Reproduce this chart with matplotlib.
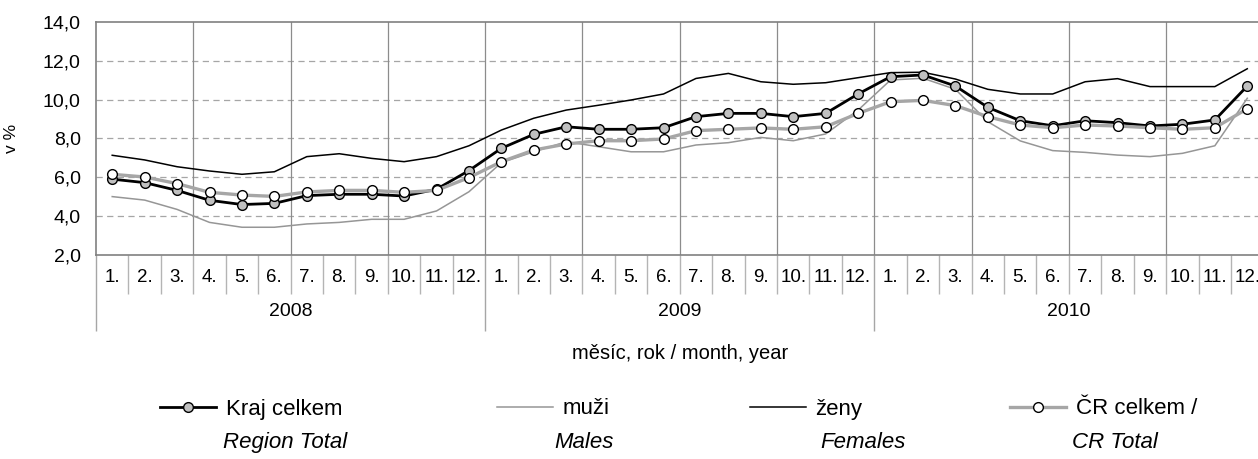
import numpy as np
import matplotlib.pyplot as plt
from matplotlib.lines import Line2D

plt.rcParams['font.family'] = ['Liberation Sans', 'DejaVu Sans']

months = [f'{m}.' for m in range(1, 13)] * 3
years = ['2008', '2009', '2010']

# nezaměstnanost v %
kraj = [5.90, 5.72, 5.32, 4.81, 4.59, 4.65, 5.05, 5.12, 5.12, 5.03, 5.38, 6.34,
        7.49, 8.21, 8.60, 8.47, 8.47, 8.55, 9.12, 9.29, 9.29, 9.12, 9.29, 10.29,
        11.18, 11.27, 10.70, 9.60, 8.91, 8.65, 8.91, 8.81, 8.64, 8.73, 8.95, 10.70]
muzi = [5.00, 4.82, 4.34, 3.67, 3.42, 3.42, 3.59, 3.67, 3.83, 3.83, 4.26, 5.25,
        6.75, 7.31, 7.83, 7.57, 7.31, 7.31, 7.66, 7.78, 8.05, 7.88, 8.23, 9.46,
        11.01, 11.10, 10.53, 8.86, 7.87, 7.37, 7.28, 7.14, 7.06, 7.23, 7.62, 10.07]
zeny = [7.13, 6.89, 6.54, 6.32, 6.15, 6.28, 7.06, 7.21, 6.97, 6.80, 7.06, 7.62,
        8.43, 9.04, 9.46, 9.71, 9.98, 10.29, 11.09, 11.35, 10.92, 10.79, 10.87, 11.13,
        11.39, 11.41, 11.06, 10.53, 10.29, 10.29, 10.92, 11.08, 10.67, 10.67, 10.67, 11.59]
cr = [6.15, 6.01, 5.67, 5.22, 5.08, 5.01, 5.24, 5.32, 5.32, 5.22, 5.32, 5.98,
      6.80, 7.40, 7.71, 7.88, 7.88, 7.97, 8.40, 8.47, 8.54, 8.47, 8.60, 9.29,
      9.89, 9.96, 9.69, 9.12, 8.69, 8.55, 8.69, 8.64, 8.55, 8.47, 8.55, 9.53]

W, H = 1258, 459
fig = plt.figure(figsize=(W / 100, H / 100), dpi=100)
ax = fig.add_axes([96 / W, 1 - 254.8 / H, 1167.5 / W, 232.8 / H])

x = np.arange(len(months)) + 0.5

# mřížka
for v in range(4, 13, 2):
    ax.axhline(v, color='#a6a6a6', lw=0.9, ls=(0, (5, 3.5)), zorder=1)
for q in range(3, 36, 3):
    ax.axvline(q, color='#8c8c8c', lw=0.9, zorder=1)

ax.plot(x, muzi, color='#969696', lw=1.1, zorder=2)
ax.plot(x, zeny, color='black', lw=1.1, zorder=2)
ax.plot(x, kraj, color='black', lw=2.0, marker='o', ms=7, mfc='#c0c0c0',
        mec='black', mew=1.0, zorder=3)
ax.plot(x, cr, color='#a6a6a6', lw=2.4, marker='o', ms=7, mfc='white',
        mec='black', mew=1.0, zorder=4)

ax.set_xlim(0, 36)
ax.set_ylim(2, 14)
yt = np.arange(2, 15, 2)
ax.set_yticks(yt)
ax.set_yticklabels([f'{v:.1f}'.replace('.', ',') for v in yt])
ax.tick_params(axis='y', length=0, pad=11, labelsize=14)

# dvouúrovňová kategorie osy x
ax.set_xticks([0, 12, 24, 36])
ax.set_xticks(np.arange(0, 37), minor=True)
ax.set_xticklabels([])
ax.tick_params(axis='x', which='major', length=55, width=1, color='#a6a6a6')
ax.tick_params(axis='x', which='minor', length=28, width=1, color='#b4b4b4')
tr = ax.get_xaxis_transform()
for xi, m in zip(x, months):
    ax.text(xi, -0.097, m, transform=tr, ha='center', va='center', fontsize=13.5)
for i, yr in enumerate(years):
    ax.text(12 * i + 6, -0.245, yr, transform=tr, ha='center', va='center', fontsize=14)

ax.text(18, -0.425, 'měsíc, rok / month, year', transform=tr, ha='center', va='center',
        fontsize=14.5)
ax.set_ylabel('v %', fontsize=12.5)
ax.yaxis.set_label_coords(-77 / 1167.5, 0.5)

for s in ax.spines.values():
    s.set_color('#808080')
    s.set_linewidth(1.2)

# legenda
handles = [
    Line2D([], [], color='black', lw=2.0, marker='o', ms=7, mfc='#c0c0c0', mec='black'),
    Line2D([], [], color='#969696', lw=1.1),
    Line2D([], [], color='black', lw=1.1),
    Line2D([], [], color='#a6a6a6', lw=2.4, marker='o', ms=7, mfc='white', mec='black'),
]
labels = ['Kraj celkem', 'muži', 'ženy', 'ČR celkem /']
subs = ['Region Total', 'Males', 'Females', 'CR Total']
starts = [160, 497, 750, 1010]
sub_x = [223, 554, 820, 1072]
for h, lab, sub, x0, xs in zip(handles, labels, subs, starts, sub_x):
    fig.legend([h], [lab], loc='center left', bbox_to_anchor=(x0 / W, 1 - 409 / H),
               frameon=False, borderpad=0, borderaxespad=0, handlelength=2.5,
               handletextpad=0.45, fontsize=16)
    fig.text(xs / W, 1 - 448 / H, sub, fontsize=16, style='italic',
             ha='left', va='baseline')

fig.savefig('out.png', dpi=100)
